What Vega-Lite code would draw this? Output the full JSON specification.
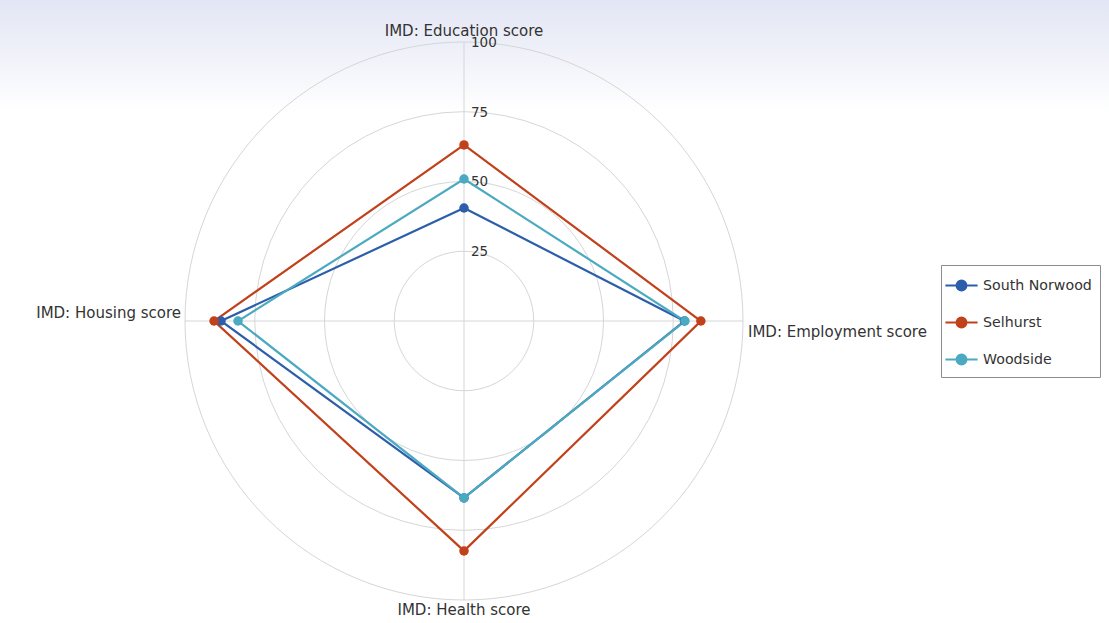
{
  "$schema": "https://vega.github.io/schema/vega-lite/v6.json",
  "width": 1109,
  "height": 623,
  "autosize": {"type": "none"},
  "padding": 0,
  "background": "#ffffff",
  "config": {
    "view": {"stroke": null, "fill": {"gradient": "linear", "x1": 0, "y1": 0, "x2": 0, "y2": 1, "stops": [{"offset": 0, "color": "#e2e5f4"}, {"offset": 0.18, "color": "#ffffff"}, {"offset": 1, "color": "#ffffff"}]}},
    "font": "DejaVu Sans"
  },
  "datasets": {
    "scores": [
      {"area": "South Norwood", "axis": "IMD: Education score", "idx": 0, "value": 40.5},
      {"area": "South Norwood", "axis": "IMD: Employment score", "idx": 1, "value": 79.0},
      {"area": "South Norwood", "axis": "IMD: Health score", "idx": 2, "value": 63.4},
      {"area": "South Norwood", "axis": "IMD: Housing score", "idx": 3, "value": 87.1},
      {"area": "Selhurst", "axis": "IMD: Education score", "idx": 0, "value": 63.1},
      {"area": "Selhurst", "axis": "IMD: Employment score", "idx": 1, "value": 84.9},
      {"area": "Selhurst", "axis": "IMD: Health score", "idx": 2, "value": 82.4},
      {"area": "Selhurst", "axis": "IMD: Housing score", "idx": 3, "value": 89.6},
      {"area": "Woodside", "axis": "IMD: Education score", "idx": 0, "value": 50.9},
      {"area": "Woodside", "axis": "IMD: Employment score", "idx": 1, "value": 79.2},
      {"area": "Woodside", "axis": "IMD: Health score", "idx": 2, "value": 63.4},
      {"area": "Woodside", "axis": "IMD: Housing score", "idx": 3, "value": 81.0}
    ],
    "axes": [
      {"axis": "IMD: Education score", "idx": 0},
      {"axis": "IMD: Employment score", "idx": 1},
      {"axis": "IMD: Health score", "idx": 2},
      {"axis": "IMD: Housing score", "idx": 3}
    ],
    "rings": [{"r": 25}, {"r": 50}, {"r": 75}, {"r": 100}]
  },
  "layer": [
    {
      "data": {"name": "rings"},
      "transform": [{"calculate": "0", "as": "c"}],
      "mark": {"type": "point", "shape": "circle", "filled": false, "stroke": "#d6d6d6", "strokeWidth": 1, "opacity": 1},
      "encoding": {
        "x": {"field": "c", "type": "quantitative", "scale": {"domain": [-166.31, 231.18], "nice": false, "zero": false}, "axis": null},
        "y": {"field": "c", "type": "quantitative", "scale": {"domain": [-108.24, 115.05], "nice": false, "zero": false}, "axis": null},
        "size": {"field": "r", "type": "quantitative", "scale": {"type": "pow", "exponent": 2, "domain": [0, 100], "range": [0, 311364], "zero": true, "nice": false}, "legend": null}
      }
    },
    {
      "data": {"name": "axes"},
      "transform": [
        {"calculate": "100*sin(datum.idx*PI/2)", "as": "ex"},
        {"calculate": "100*cos(datum.idx*PI/2)", "as": "ey"},
        {"calculate": "0", "as": "c"}
      ],
      "mark": {"type": "rule", "stroke": "#d6d6d6", "strokeWidth": 1},
      "encoding": {
        "x": {"field": "c", "type": "quantitative"},
        "y": {"field": "c", "type": "quantitative"},
        "x2": {"field": "ex"},
        "y2": {"field": "ey"}
      }
    },
    {
      "data": {"name": "rings"},
      "transform": [{"calculate": "0", "as": "c"}],
      "mark": {"type": "text", "align": "left", "baseline": "middle", "dx": 7, "dy": 1, "fontSize": 13.5, "fill": "#333333"},
      "encoding": {
        "x": {"field": "c", "type": "quantitative"},
        "y": {"field": "r", "type": "quantitative"},
        "text": {"field": "r", "type": "quantitative"}
      }
    },
    {
      "data": {"name": "axes"},
      "transform": [
        {"calculate": "100*sin(datum.idx*PI/2)", "as": "ex"},
        {"calculate": "100*cos(datum.idx*PI/2)", "as": "ey"}
      ],
      "mark": {
        "type": "text", "baseline": "middle", "fontSize": 15, "fill": "#333333",
        "align": {"expr": "datum.idx == 1 ? 'left' : datum.idx == 3 ? 'right' : 'center'"},
        "dx": {"expr": "datum.idx == 1 ? 5 : datum.idx == 3 ? -4 : 0"},
        "dy": {"expr": "datum.idx == 0 ? -11 : datum.idx == 1 ? 11 : datum.idx == 2 ? 10 : -8"}
      },
      "encoding": {
        "x": {"field": "ex", "type": "quantitative"},
        "y": {"field": "ey", "type": "quantitative"},
        "text": {"field": "axis", "type": "nominal"}
      }
    },
    {
      "data": {"name": "scores"},
      "transform": [
        {"calculate": "datum.value*sin(datum.idx*PI/2)", "as": "px"},
        {"calculate": "datum.value*cos(datum.idx*PI/2)", "as": "py"}
      ],
      "layer": [
        {
          "mark": {"type": "line", "interpolate": "linear-closed", "strokeWidth": 2.2},
          "encoding": {
            "x": {"field": "px", "type": "quantitative"},
            "y": {"field": "py", "type": "quantitative"},
            "order": {"field": "idx", "type": "quantitative"},
            "color": {
              "field": "area", "type": "nominal",
              "scale": {"domain": ["South Norwood", "Selhurst", "Woodside"], "range": ["#2d5ea9", "#c1411b", "#4baac1"]},
              "legend": {
                "title": null, "orient": "none", "legendX": 941, "legendY": 265,
                "padding": 8, "strokeColor": "#8c8c8c", "fillColor": "#ffffff",
                "symbolType": "M-1.4,0L1.4,0M0.43,0A0.43,0.43,0,1,1,-0.43,0A0.43,0.43,0,1,1,0.43,0Z",
                "symbolSize": 529, "symbolStrokeWidth": 2, "labelOffset": 9,
                "labelFont": "DejaVu Sans", "labelFontSize": 14.2, "labelColor": "#333333",
                "rowPadding": 15, "labelLimit": 200
              }
            }
          }
        },
        {
          "mark": {"type": "point", "filled": true, "size": 90, "opacity": 1},
          "encoding": {
            "x": {"field": "px", "type": "quantitative"},
            "y": {"field": "py", "type": "quantitative"},
            "color": {"field": "area", "type": "nominal", "legend": null}
          }
        }
      ]
    }
  ]
}
